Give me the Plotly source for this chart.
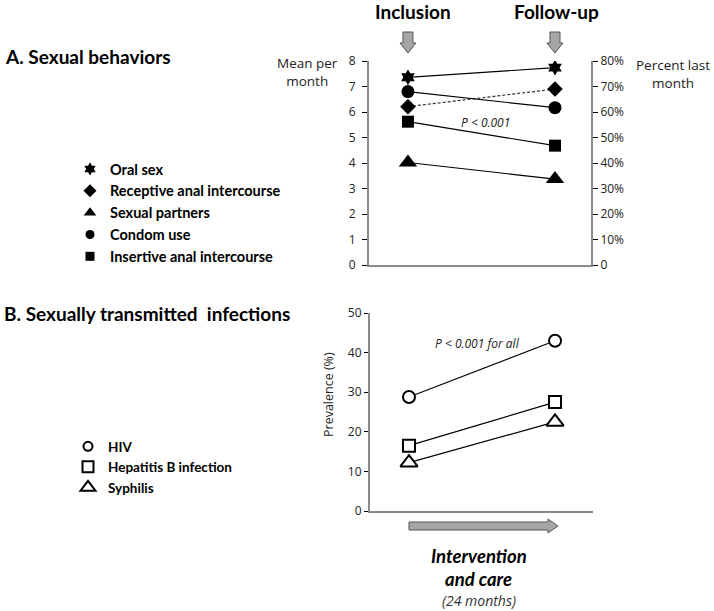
import plotly.graph_objects as go

W, H = 714, 611

# ---------------- data ----------------
timepoints = ["Inclusion", "Follow-up"]

# Panel A: sexual behaviors (mean per month / percent last month)
oral_sex = [7.36, 7.74]
receptive_anal = [6.21, 6.90]
sexual_partners = [4.02, 3.37]
condom_use_pct = [68.0, 61.7]
insertive_anal = [5.62, 4.68]

# Panel B: prevalence (%)
hiv = [28.8, 43.0]
hepatitis_b = [16.5, 27.5]
syphilis = [12.2, 22.5]

left_ticks = [0, 1, 2, 3, 4, 5, 6, 7, 8]
right_ticks = [0, 10, 20, 30, 40, 50, 60, 70, 80]
right_ticktext = ["0", "10%", "20%", "30%", "40%", "50%", "60%", "70%", "80%"]
prev_ticks = [0, 10, 20, 30, 40, 50]


def px(xp):
    return xp / W


def py(yp):
    return 1 - yp / H


fig = go.Figure()
LINE = dict(color="black", width=1.2)

# ---- Panel A traces ----
fig.add_trace(go.Scatter(x=timepoints, y=oral_sex, mode="lines+markers", xaxis="x", yaxis="y",
                         line=LINE, marker=dict(symbol="hexagram", size=12, color="black"),
                         showlegend=False))
fig.add_trace(go.Scatter(x=timepoints, y=receptive_anal, mode="lines+markers", xaxis="x", yaxis="y",
                         line=dict(color="#333333", width=1.2, dash="3px,2px"),
                         marker=dict(symbol="diamond", size=12, color="black"),
                         showlegend=False))
fig.add_trace(go.Scatter(x=timepoints, y=sexual_partners, mode="lines+markers", xaxis="x", yaxis="y",
                         line=LINE, marker=dict(symbol="triangle-up", size=16, color="black"),
                         showlegend=False))
fig.add_trace(go.Scatter(x=timepoints, y=condom_use_pct, mode="lines+markers", xaxis="x", yaxis="y2",
                         line=LINE, marker=dict(symbol="circle", size=13, color="black"),
                         showlegend=False))
fig.add_trace(go.Scatter(x=timepoints, y=insertive_anal, mode="lines+markers", xaxis="x", yaxis="y",
                         line=LINE, marker=dict(symbol="square", size=12, color="black"),
                         showlegend=False))

# ---- Panel B traces ----
OPEN = dict(color="white", line=dict(color="black", width=2))
fig.add_trace(go.Scatter(x=timepoints, y=hiv, mode="lines+markers", xaxis="x3", yaxis="y3",
                         line=LINE, marker=dict(symbol="circle", size=12, **OPEN), showlegend=False))
fig.add_trace(go.Scatter(x=timepoints, y=hepatitis_b, mode="lines+markers", xaxis="x3", yaxis="y3",
                         line=LINE, marker=dict(symbol="square", size=12, **OPEN), showlegend=False))
fig.add_trace(go.Scatter(x=timepoints, y=syphilis, mode="lines+markers", xaxis="x3", yaxis="y3",
                         line=LINE, marker=dict(symbol="triangle-up", size=15, **OPEN), showlegend=False))

# ---- legend-only entries (marker only) ----
legA = [("Oral sex", "hexagram", 10), ("Receptive anal intercourse", "diamond", 10),
        ("Sexual partners", "triangle-up", 11), ("Condom use", "circle", 9),
        ("Insertive anal intercourse", "square", 9)]
for i, (name, sym, sz) in enumerate(legA):
    fig.add_trace(go.Scatter(x=[None], y=[None], mode="markers", name=name, legend="legend",
                             legendgroup=f"a{i}", xaxis="x", yaxis="y",
                             marker=dict(symbol=sym, size=sz, color="black")))
legB = [("HIV", "circle", 9), ("Hepatitis B infection", "square", 11), ("Syphilis", "triangle-up", 13)]
for i, (name, sym, sz) in enumerate(legB):
    fig.add_trace(go.Scatter(x=[None], y=[None], mode="markers", name=name, legend="legend2",
                             legendgroup=f"b{i}", xaxis="x3", yaxis="y3",
                             marker=dict(symbol=sym, size=sz, color="white",
                                         line=dict(color="black", width=2))))

AX_LINE = dict(showline=True, linecolor="#8a8a8a", linewidth=2, zeroline=False, showgrid=False)
TICKFONT = dict(family="Open Sans", size=12, color="#222222")

fig.update_layout(
    width=W, height=H, margin=dict(l=0, r=0, t=0, b=0, autoexpand=False),
    paper_bgcolor="white", plot_bgcolor="white",
    font=dict(family="Open Sans", color="black"),
    xaxis=dict(domain=[px(369), px(591)], range=[-0.265, 1.245], type="category", anchor="y",
               showticklabels=False, ticks="", **AX_LINE),
    yaxis=dict(domain=[py(265), py(61)], range=[0, 8], tickvals=left_ticks, ticks="outside",
               ticklen=5, tickcolor="black", tickfont=TICKFONT, anchor="x", ticklabelstandoff=4,
               **AX_LINE),
    yaxis2=dict(overlaying="y", side="right", range=[0, 80], tickvals=right_ticks,
                ticktext=right_ticktext, ticks="outside", ticklen=5, tickcolor="black",
                tickfont=TICKFONT, anchor="x", **AX_LINE),
    xaxis3=dict(domain=[px(370), px(593)], range=[-0.267, 1.26], type="category", anchor="y3",
                showticklabels=False, ticks="", **AX_LINE),
    yaxis3=dict(domain=[py(511), py(313)], range=[0, 50], tickvals=prev_ticks, ticks="outside",
                ticklen=4, tickcolor="black", tickfont=TICKFONT, anchor="x3", **AX_LINE),
    legend=dict(x=px(70), y=py(153), xanchor="left", yanchor="top", bgcolor="rgba(0,0,0,0)",
                font=dict(family="Lato", size=14.5, color="black", weight="bold"),
                tracegroupgap=0, itemclick=False),
    legend2=dict(x=px(68), y=py(431), xanchor="left", yanchor="top", bgcolor="rgba(0,0,0,0)",
                 font=dict(family="Lato", size=13.5, color="black", weight="bold"),
                 tracegroupgap=0, itemclick=False),
)

BOLD = dict(family="Lato", color="black", weight="bold")
LBL = dict(family="Open Sans", size=13.5, color="#222222")
ann = [
    dict(text="A. Sexual behaviors", x=px(3), y=py(57), xanchor="left", font=dict(size=19, **BOLD)),
    dict(text="B. Sexually transmitted  infections", x=px(2), y=py(313), xanchor="left",
         font=dict(size=19, **BOLD)),
    dict(text="Inclusion", x=px(413), y=py(12), xanchor="center", font=dict(size=19, **BOLD)),
    dict(text="Follow-up", x=px(556), y=py(12), xanchor="center", font=dict(size=19, **BOLD)),
    dict(text="Mean per<br>month", x=px(307), y=py(72), xanchor="center", font=LBL),
    dict(text="Percent last<br>month", x=px(673), y=py(74), xanchor="center", font=LBL),
    dict(text="<i>P < 0.001</i>", x=px(485), y=py(123), xanchor="center",
         font=dict(family="Open Sans", size=12, color="#222222")),
    dict(text="<i>P < 0.001 for all</i>", x=px(478), y=py(343), xanchor="center",
         font=dict(family="Open Sans", size=12, color="#222222")),
    dict(text="Prevalence (%)", x=px(328), y=py(395), xanchor="center", textangle=-90,
         font=dict(family="Open Sans", size=12.5, color="#222222")),
    dict(text="<b><i>Intervention</i></b>", x=px(479), y=py(556), xanchor="center",
         font=dict(family="Lato", size=18.5, color="black")),
    dict(text="<b><i>and care</i></b>", x=px(479), y=py(579), xanchor="center",
         font=dict(family="Lato", size=18.5, color="black")),
    dict(text="<i>(24 months)</i>", x=px(479), y=py(600), xanchor="center",
         font=dict(family="Open Sans", size=14, color="#333333")),
]
for a in ann:
    a.update(xref="paper", yref="paper", yanchor="middle", showarrow=False)
fig.update_layout(annotations=ann)

# ---- block arrows ----
down_path = "M-5,21 L5,21 L5,10 L8,10 L0,0 L-8,10 L-5,10 Z"
shapes = []
for xa in [0, 1]:
    shapes.append(dict(type="path", xref="x", yref="paper", xsizemode="pixel", ysizemode="pixel",
                       xanchor=xa, yanchor=py(53), path=down_path,
                       fillcolor="#a6a6a6", line=dict(color="#555555", width=1)))
shapes.append(dict(type="path", xref="x3", yref="paper", xsizemode="pixel", ysizemode="pixel",
                   xanchor=0, yanchor=py(526),
                   path="M0,-4 L139,-4 L139,-7 L149,0 L139,7 L139,4 L0,4 Z",
                   fillcolor="#a6a6a6", line=dict(color="#555555", width=1)))
fig.update_layout(shapes=shapes)

fig.write_html("out.html", config={"displayModeBar": False},
               post_script="document.body.style.margin='0';")
